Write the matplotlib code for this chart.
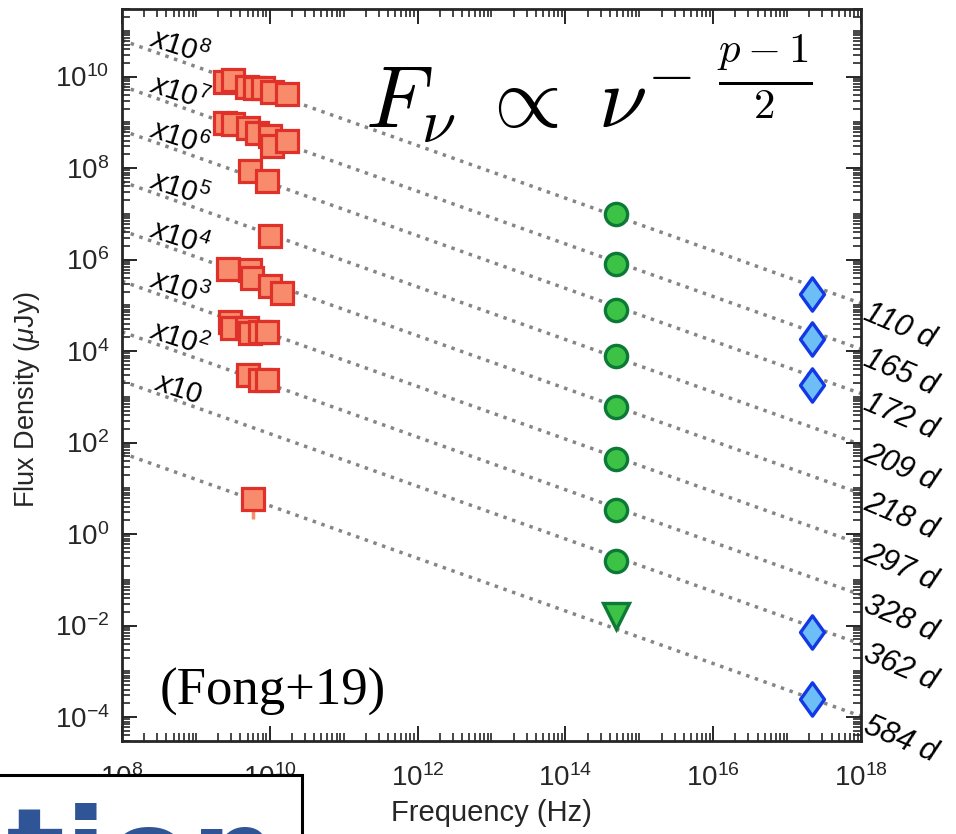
import numpy as np
import matplotlib
matplotlib.use("Agg")
import matplotlib.pyplot as plt
from matplotlib.patches import Rectangle
from matplotlib.path import Path

plt.rcParams["font.family"] = ["Liberation Sans", "DejaVu Sans"]
plt.rcParams["mathtext.fontset"] = "custom"
plt.rcParams["mathtext.rm"] = "Liberation Sans"
plt.rcParams["mathtext.it"] = "Liberation Sans:italic"
plt.rcParams["axes.unicode_minus"] = False

# epochs, scale factor (10^k) and power-law model (flux at 6 GHz, uJy)
epochs = ["110 d", "165 d", "172 d", "209 d", "218 d", "297 d", "328 d", "362 d", "584 d"]
scale_exp = [8, 7, 6, 5, 4, 3, 2, 1, 0]
beta = -0.575
model_6ghz_ujy = [59, 59, 63, 48, 41, 32, 25, 21, 5.6]

# radio (VLA/ATCA) points, unscaled
radio_epoch = [0, 0, 0, 0, 0, 0, 0,
               1, 1, 1, 1, 1, 1, 1,
               2, 2,
               3,
               4, 4, 4, 4, 4,
               5, 5, 5, 5, 5, 5,
               6, 6, 6,
               8]
radio_ghz = [2.5, 3.2, 4.9, 6.3, 8.1, 10.7, 17.0,
             2.5, 3.2, 5.1, 6.7, 10.1, 10.7, 17.1,
             5.4, 9.1,
             10.0,
             2.7, 5.4, 5.7, 10.1, 14.6,
             2.9, 3.1, 4.9, 5.4, 7.4, 9.2,
             5.1, 7.4, 9.2,
             5.9]
radio_ujy = [78, 85, 60, 55, 55, 47, 41,
             95, 91, 74, 58, 50, 30, 39,
             85, 52,
             33,
             63, 58, 39, 27, 19,
             43, 32, 32, 25, 26, 26,
             30, 23, 23,
             5.8]
radio_err_lo = 3.7  # only the 584 d point shows a bar

# optical (HST) points
optical_hz = 4.8e14
optical_epoch = [0, 1, 2, 3, 4, 5, 6, 7]
optical_ujy = [0.100, 0.081, 0.081, 0.078, 0.060, 0.043, 0.033, 0.026]
optical_lim_epoch = 8
optical_lim_ujy = 0.0166

# X-ray (Chandra) points
xray_hz = 2.2e17
xray_epoch = [0, 1, 2, 7, 8]
xray_ujy = [1.8e-3, 1.8e-3, 1.8e-3, 7.4e-4, 2.45e-4]

x_tick_exps = [8, 10, 12, 14, 16, 18]
y_tick_exps = [-4, -2, 0, 2, 4, 6, 8, 10]

ink = "#262626"

fig = plt.figure(figsize=(9.56, 8.34), dpi=100)
ax = fig.add_axes([0.1276, 0.1115, 0.7730, 0.8777])
ax.set_xscale("log")
ax.set_yscale("log")
ax.set_xlim(1e8, 1e18)
ax.set_ylim(3e-5, 3e11)

# power-law lines
nu = np.array([1e8, 1e18])
for i in range(len(epochs)):
    f = model_6ghz_ujy[i] * (nu / 6e9) ** beta * 10.0 ** scale_exp[i]
    ax.plot(nu, f, ls=":", color="#858585", lw=2.5, zorder=1)

# scale labels along the lines
label_nu = [2.2e8, 2.2e8, 2.2e8, 2.2e8, 2.2e8, 2.2e8, 2.2e8, 2.6e8]
for i, k in enumerate(scale_exp):
    if k == 0:
        continue
    txt = r"$\mathit{x10^{%d}}$" % k if k > 1 else r"$\mathit{x10}$"
    y = model_6ghz_ujy[i] * (label_nu[i] / 6e9) ** beta * 10.0 ** k
    ax.annotate(txt, xy=(label_nu[i], y), xytext=(0, 2), textcoords="offset points",
                fontsize=21, rotation=-18, rotation_mode="anchor",
                ha="left", va="baseline", color="black")

# epoch labels at right edge
for i, lab in enumerate(epochs):
    y = model_6ghz_ujy[i] * (1e18 / 6e9) ** beta * 10.0 ** scale_exp[i]
    ax.annotate(lab, xy=(1e18, y), xytext=(7, 4), textcoords="offset points",
                fontsize=22, fontstyle="italic", rotation=-23, rotation_mode="anchor",
                ha="left", va="top", annotation_clip=False)

# radio
r_scale = np.array([10.0 ** scale_exp[e] for e in radio_epoch])
r_nu = np.array(radio_ghz) * 1e9
r_f = np.array(radio_ujy) * r_scale
ax.errorbar(r_nu[-1], r_f[-1], yerr=[[radio_err_lo], [0]], fmt="none",
            ecolor="#f98b6d", elinewidth=2.5, zorder=2)
ax.plot(r_nu, r_f, "s", ms=15.5, mfc="#f98b6d", mec="#e0302a", mew=2.3, ls="none", zorder=3)

# optical
o_f = [optical_ujy[j] * 10.0 ** scale_exp[e] for j, e in enumerate(optical_epoch)]
ax.plot([optical_hz] * len(o_f), o_f, "o", ms=16, mfc="#3cc244", mec="#0c7a36",
        mew=2.4, ls="none", zorder=3)
ax.plot([optical_hz], [optical_lim_ujy * 10.0 ** scale_exp[optical_lim_epoch]], "v",
        ms=19, mfc="#3cc244", mec="#0c7a36", mew=2.4, ls="none", zorder=3)

# X-ray
diamond = Path([(0, 1), (0.72, 0), (0, -1), (-0.72, 0), (0, 1)],
               [Path.MOVETO, Path.LINETO, Path.LINETO, Path.LINETO, Path.CLOSEPOLY])
x_f = [xray_ujy[j] * 10.0 ** scale_exp[e] for j, e in enumerate(xray_epoch)]
ax.plot([xray_hz] * len(x_f), x_f, marker=diamond, ms=24, mfc="#6dbdf6", mec="#1238e6",
        mew=2.4, ls="none", zorder=3)

# ticks
ax.set_xticks([10.0 ** e for e in x_tick_exps])
ax.set_xticklabels([r"$\mathdefault{10^{%d}}$" % e for e in x_tick_exps])
ax.set_yticks([10.0 ** e for e in y_tick_exps])
ax.set_yticklabels([r"$\mathdefault{10^{%d}}$" % e for e in y_tick_exps])
ax.xaxis.set_minor_locator(matplotlib.ticker.LogLocator(base=10, subs=np.arange(1, 10), numticks=200))
ax.yaxis.set_minor_locator(matplotlib.ticker.LogLocator(base=10, subs=np.arange(1, 10), numticks=200))
ax.xaxis.set_minor_formatter(matplotlib.ticker.NullFormatter())
ax.yaxis.set_minor_formatter(matplotlib.ticker.NullFormatter())
ax.tick_params(which="both", direction="in", top=True, right=True, colors=ink)
ax.tick_params(which="major", length=11, width=1.4, labelsize=20, pad=9)
ax.tick_params(axis="x", which="major", pad=17)
ax.tick_params(which="minor", length=6, width=1.2)
for s in ax.spines.values():
    s.set_linewidth(2)
    s.set_color(ink)

ax.set_xlabel("Frequency (Hz)", fontsize=21, color=ink, labelpad=5)
ax.set_ylabel(r"Flux Density ($\mu$Jy)", fontsize=19.5, color=ink)
ax.yaxis.set_label_coords(-0.108, 0.466)

ax.text(0.329, 0.837, r"$F_\nu\;\propto\;\nu^{-\;\,\frac{p-1}{2}}$", transform=ax.transAxes,
        fontsize=63, math_fontfamily="cm", ha="left", va="baseline")
ax.text(0.051, 0.049, "(Fong+19)", transform=ax.transAxes, fontsize=38,
        family="Liberation Serif", ha="left", va="baseline")

# slide overlay box at lower left
fig.add_artist(Rectangle((-0.05, -0.1), 0.366, 0.1707, transform=fig.transFigure,
                         facecolor="white", edgecolor="black", lw=2.2, zorder=5))
fig.text(0.291, -0.073, "ation", color="#2f5597", fontsize=88, fontweight="bold",
         family="DejaVu Sans", ha="right", va="baseline", zorder=6)

fig.savefig("out.png", dpi=100)
